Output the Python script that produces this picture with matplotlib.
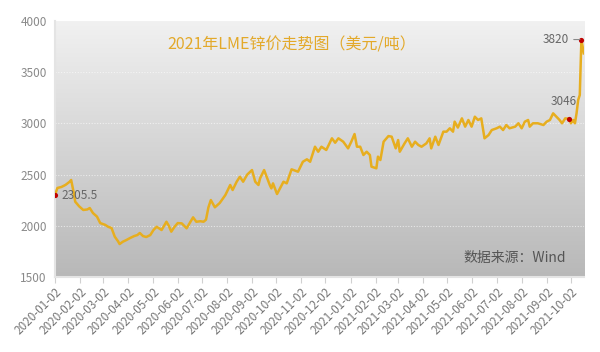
import numpy as np
import pandas as pd
import matplotlib
matplotlib.use("Agg")
import matplotlib.pyplot as plt
import matplotlib.dates as mdates
from matplotlib.colors import LinearSegmentedColormap

plt.rcParams['font.family'] = ['Noto Sans CJK SC', 'DejaVu Sans']

dates = [
    "2020-01-02", "2020-01-05", "2020-01-10", "2020-01-15", "2020-01-20", "2020-01-22",
    "2020-01-25", "2020-01-27", "2020-02-01", "2020-02-06", "2020-02-11", "2020-02-14",
    "2020-02-18", "2020-02-23", "2020-02-27", "2020-03-04", "2020-03-08", "2020-03-12",
    "2020-03-16", "2020-03-20", "2020-03-22", "2020-03-26", "2020-03-30", "2020-04-04",
    "2020-04-09", "2020-04-13", "2020-04-16", "2020-04-20", "2020-04-24", "2020-04-29",
    "2020-05-03", "2020-05-07", "2020-05-13", "2020-05-19", "2020-05-22", "2020-05-25",
    "2020-05-29", "2020-06-02", "2020-06-07", "2020-06-13", "2020-06-17", "2020-06-21",
    "2020-06-25", "2020-06-30", "2020-07-04",
    "2020-07-07", "2020-07-10", "2020-07-13", "2020-07-18", "2020-07-24", "2020-07-31",
    "2020-08-06", "2020-08-09", "2020-08-14", "2020-08-18", "2020-08-22", "2020-08-27",
    "2020-09-02", "2020-09-06", "2020-09-10", "2020-09-12", "2020-09-17", "2020-09-24",
    "2020-09-26", "2020-09-28", "2020-10-03", "2020-10-11", "2020-10-15", "2020-10-21",
    "2020-10-29", "2020-11-04", "2020-11-09", "2020-11-13", "2020-11-19", "2020-11-23",
    "2020-11-27", "2020-12-03", "2020-12-07", "2020-12-10", "2020-12-14", "2020-12-18",
    "2020-12-24", "2020-12-30", "2021-01-03", "2021-01-07", "2021-01-10", "2021-01-14",
    "2021-01-18", "2021-01-22", "2021-01-26", "2021-01-28", "2021-02-03", "2021-02-05",
    "2021-02-08", "2021-02-12", "2021-02-18", "2021-02-22", "2021-02-27", "2021-03-02",
    "2021-03-04", "2021-03-10", "2021-03-14", "2021-03-19", "2021-03-23", "2021-03-27",
    "2021-03-31", "2021-04-06", "2021-04-10", "2021-04-12", "2021-04-17", "2021-04-21",
    "2021-04-27", "2021-05-01", "2021-05-05", "2021-05-09", "2021-05-11", "2021-05-15",
    "2021-05-20", "2021-05-24", "2021-05-28", "2021-06-01", "2021-06-05", "2021-06-09",
    "2021-06-13", "2021-06-17", "2021-06-22", "2021-06-26", "2021-07-02", "2021-07-06",
    "2021-07-10", "2021-07-14", "2021-07-18", "2021-07-25", "2021-07-29", "2021-08-02",
    "2021-08-06", "2021-08-10", "2021-08-12", "2021-08-16", "2021-08-22", "2021-08-29",
    "2021-09-02", "2021-09-06", "2021-09-10", "2021-09-14", "2021-09-18", "2021-09-21",
    "2021-09-25", "2021-09-30", "2021-10-02", "2021-10-05", "2021-10-07", "2021-10-09",
    "2021-10-11", "2021-10-13", "2021-10-15", "2021-10-18",
]
prices = [
    2305.5, 2370, 2380, 2400, 2430, 2448,
    2330, 2236, 2190, 2155, 2160, 2174,
    2125, 2090, 2027, 2010, 1990, 1979,
    1894, 1850, 1822, 1845, 1860, 1881,
    1900, 1910, 1930, 1900, 1891, 1910,
    1960, 1991, 1959, 2040, 2000, 1943,
    1990, 2027, 2024, 1976, 2030, 2083,
    2040, 2045, 2040,
    2060, 2180, 2252, 2181, 2223, 2301,
    2399, 2350, 2431, 2480, 2431, 2500,
    2545, 2431, 2399, 2464, 2545, 2399,
    2366, 2415, 2311, 2431, 2415, 2552,
    2529, 2626, 2650, 2626, 2773, 2724,
    2773, 2741, 2806, 2855, 2812, 2855,
    2822, 2757, 2822, 2897, 2773, 2773,
    2692, 2724, 2692, 2578, 2562, 2676,
    2643, 2822, 2877, 2871, 2757, 2838,
    2724, 2806, 2855, 2773, 2822, 2790,
    2773, 2806, 2855, 2757, 2871, 2790,
    2920, 2920, 2953, 2920, 3018, 2960,
    3050, 2969, 3034, 2969, 3066, 3034,
    3050, 2855, 2887, 2936, 2953, 2969,
    2936, 2985, 2953, 2969, 3002, 2953,
    3018, 3034, 2969, 3002, 3002, 2985,
    3018, 3034, 3099, 3066, 3034, 3002,
    3050, 3046, 3002, 3034, 3002, 3099,
    3229, 3278, 3820, 3685,
]
marked_dates = ["2020-01-02", "2021-09-30", "2021-10-15"]
marked_values = [2305.5, 3046, 3820]
marked_labels = ["2305.5", "3046", "3820"]

x_ticks = pd.date_range("2020-01-01", "2021-10-01", freq="MS") + pd.Timedelta(days=1)
y_ticks = [1500, 2000, 2500, 3000, 3500, 4000]

title = "2021年LME锌价走势图（美元/吨）"
source = "数据来源：Wind"

x = pd.to_datetime(dates)
mx = pd.to_datetime(marked_dates)

fig = plt.figure(figsize=(6.0, 3.52), dpi=100)
ax = fig.add_axes([0.0917, 0.213, 0.882, 0.727])

# gradient background
grad = np.linspace(0, 1, 256).reshape(-1, 1)
cmap = LinearSegmentedColormap.from_list("bg", ["#f1f1f1", "#b8b8b8"])
ax.imshow(grad, extent=[0, 1, 0, 1], transform=ax.transAxes, cmap=cmap,
          aspect="auto", zorder=0, origin="upper")

ax.set_xlim(pd.Timestamp("2020-01-02"), pd.Timestamp("2021-10-18 12:00"))
ax.set_ylim(1500, 4000)

for yv in y_ticks[1:-1]:
    ax.axhline(yv, color="white", lw=0.8, ls=(0, (1, 1.5)), alpha=0.6, zorder=1)

ax.plot(x, prices, color="#E7AE1F", lw=1.8, zorder=3, solid_joinstyle="round")
ax.scatter(mx, marked_values, s=14, color="#C00000", zorder=4, linewidths=0)

lab_color = "#666666"
ax.annotate(marked_labels[0], (mx[0], marked_values[0]), xytext=(5, -1),
            textcoords="offset points", ha="left", va="center", fontsize=8.5,
            color=lab_color, zorder=5)
ax.annotate(marked_labels[1], (mx[1], marked_values[1]), xytext=(-4, 8),
            textcoords="offset points", ha="center", va="bottom", fontsize=8.5,
            color=lab_color, zorder=5)
ax.annotate(marked_labels[2], (mx[2], marked_values[2]), xytext=(-9, 0),
            textcoords="offset points", ha="right", va="center", fontsize=8.5,
            color=lab_color, zorder=5,
            arrowprops=dict(arrowstyle="-", color="#888888", lw=0.8,
                            shrinkA=1.5, shrinkB=1))

ax.text(0.448, 0.905, title, transform=ax.transAxes, ha="center", va="center",
        fontsize=11.5, color="#E3A92A", zorder=5)
ax.text(0.965, 0.075, source, transform=ax.transAxes, ha="right", va="center",
        fontsize=10, color="#555555", zorder=5)

ax.set_yticks(y_ticks)
ax.set_xticks(x_ticks)
ax.xaxis.set_major_formatter(mdates.DateFormatter("%Y-%m-%d"))
ax.tick_params(axis="y", length=0, labelsize=8.5, labelcolor="#8a8a8a", pad=6)
ax.tick_params(axis="x", length=4, color="#d0d0d0", labelsize=8.4,
               labelcolor="#777777", pad=2)
for lbl in ax.get_xticklabels():
    lbl.set_rotation(45)
    lbl.set_ha("right")
    lbl.set_rotation_mode("anchor")

for s in ["top", "right"]:
    ax.spines[s].set_visible(False)
ax.spines["left"].set_color("#e4e4e4")
ax.spines["bottom"].set_color("#e4e4e4")
ax.spines["left"].set_linewidth(1.5)
ax.spines["bottom"].set_linewidth(1.5)

fig.savefig("out.png", dpi=100)
